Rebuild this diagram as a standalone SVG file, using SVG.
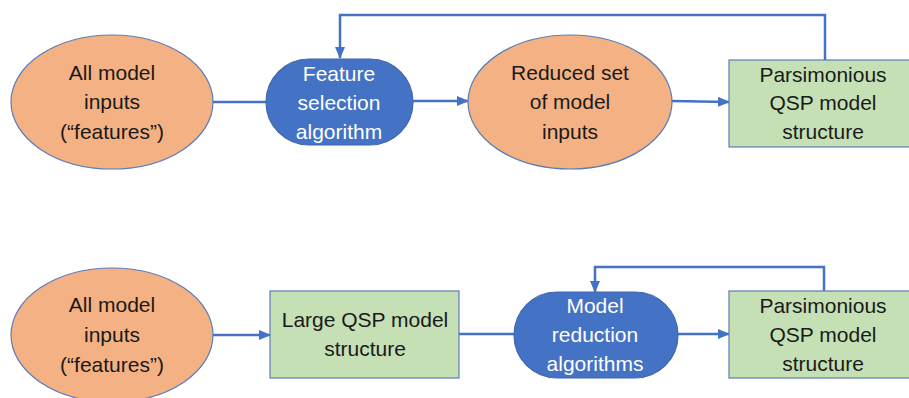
<svg xmlns="http://www.w3.org/2000/svg" width="909" height="398" viewBox="0 0 909 398">
<style>
.ell{fill:#F4B183;stroke:#5B7DB8;stroke-width:1.2}
.alg{fill:#4472C4;stroke:#3F66AE;stroke-width:1.2}
.box{fill:#C5E0B4;stroke:#5B7DB8;stroke-width:1.2}
.t{font-family:"Liberation Sans",Arial,sans-serif;font-size:21px;text-anchor:middle;fill:#1a1a1a}
.w{fill:#ffffff}
.c{fill:none;stroke:#4472C4;stroke-width:2.5}
</style>
<defs>
<marker id="ah" markerWidth="12" markerHeight="10" refX="11" refY="5" orient="auto" markerUnits="userSpaceOnUse">
<path d="M0,0 L12,5 L0,10 Z" fill="#4472C4"/>
</marker>
</defs>
<rect width="909" height="398" fill="#ffffff"/>
<g id="connectors">
<line class="c" x1="213" y1="102" x2="266" y2="102"/>
<line class="c" x1="413" y1="101" x2="468" y2="101" marker-end="url(#ah)"/>
<line class="c" x1="672" y1="101" x2="729" y2="102" marker-end="url(#ah)"/>
<polyline class="c" points="825,60 825,15 340,15 340,58" marker-end="url(#ah)"/>
<line class="c" x1="213" y1="335" x2="270" y2="335" marker-end="url(#ah)"/>
<line class="c" x1="459" y1="334" x2="514" y2="334"/>
<line class="c" x1="678" y1="334" x2="729" y2="334" marker-end="url(#ah)"/>
<polyline class="c" points="824,291 824,267 595,267 595,292" marker-end="url(#ah)"/>
</g>
<g id="n1">
<ellipse class="ell" cx="112" cy="102" rx="101" ry="67"/>
<text class="t" x="112" y="80">All model</text>
<text class="t" x="112" y="109">inputs</text>
<text class="t" x="112" y="139">(“features”)</text>
</g>
<g id="n2">
<rect class="alg" x="266" y="59" width="147" height="86" rx="43" ry="43"/>
<text class="t w" x="339" y="81">Feature</text>
<text class="t w" x="339" y="110">selection</text>
<text class="t w" x="339" y="139">algorithm</text>
</g>
<g id="n3">
<ellipse class="ell" cx="570" cy="102" rx="102" ry="67"/>
<text class="t" x="570" y="80">Reduced set</text>
<text class="t" x="570" y="109">of model</text>
<text class="t" x="570" y="139">inputs</text>
</g>
<g id="n4">
<rect class="box" x="729" y="60" width="185" height="87"/>
<text class="t" x="823" y="82">Parsimonious</text>
<text class="t" x="823" y="110">QSP model</text>
<text class="t" x="823" y="139">structure</text>
</g>
<g id="n5">
<ellipse class="ell" cx="112" cy="335" rx="101" ry="67"/>
<text class="t" x="112" y="312">All model</text>
<text class="t" x="112" y="342">inputs</text>
<text class="t" x="112" y="372">(“features”)</text>
</g>
<g id="n6">
<rect class="box" x="270" y="291" width="189" height="87"/>
<text class="t" x="365" y="327">Large QSP model</text>
<text class="t" x="365" y="356">structure</text>
</g>
<g id="n7">
<rect class="alg" x="514" y="292" width="164" height="86" rx="43" ry="43"/>
<text class="t w" x="595" y="313">Model</text>
<text class="t w" x="595" y="342">reduction</text>
<text class="t w" x="595" y="371">algorithms</text>
</g>
<g id="n8">
<rect class="box" x="729" y="291" width="185" height="87"/>
<text class="t" x="823" y="313">Parsimonious</text>
<text class="t" x="823" y="342">QSP model</text>
<text class="t" x="823" y="371">structure</text>
</g>
</svg>
